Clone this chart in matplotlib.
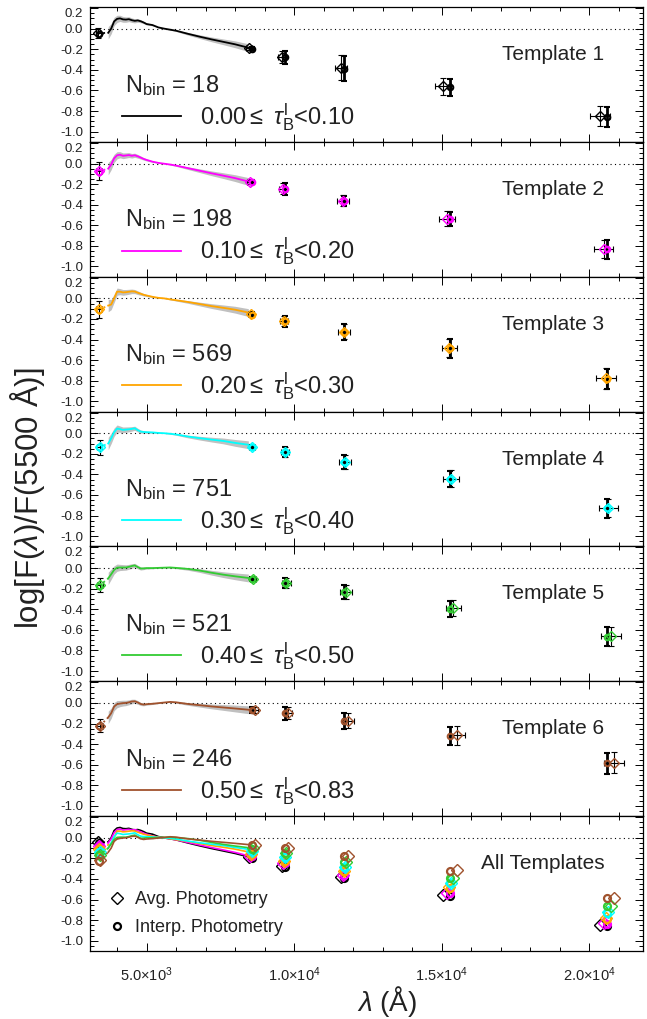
import matplotlib
matplotlib.use('Agg')
import matplotlib.pyplot as plt
from matplotlib.lines import Line2D
from matplotlib.ticker import FixedLocator, MultipleLocator

plt.rcParams['font.family'] = ['Liberation Sans', 'DejaVu Sans']
plt.rcParams['mathtext.fontset'] = 'custom'
plt.rcParams['mathtext.rm'] = 'Liberation Sans'
plt.rcParams['mathtext.it'] = 'Liberation Sans:italic'
plt.rcParams['axes.unicode_minus'] = False

# composite spectra (log flux relative to 5500 A)
spec_wave = [3700, 3800, 3900, 4000, 4100, 4200, 4300, 4400, 4500, 4600, 4700, 4800, 4900,
             5000, 5200, 5400, 5600, 5800, 6000, 6400, 6800, 7200, 7600, 8000, 8450]
flux_t1 = [-0.04, 0.0, 0.07, 0.095, 0.10, 0.09, 0.088, 0.092, 0.082, 0.076, 0.08, 0.072, 0.06,
           0.045, 0.035, 0.012, 0.0, -0.01, -0.02, -0.05, -0.078, -0.104, -0.128, -0.152, -0.185]
flux_t2 = [-0.05, -0.01, 0.05, 0.08, 0.085, 0.075, 0.078, 0.082, 0.075, 0.08, 0.07, 0.058, 0.045,
           0.035, 0.018, 0.006, -0.002, -0.01, -0.02, -0.045, -0.07, -0.095, -0.118, -0.142, -0.175]
flux_t3 = [-0.07, -0.06, 0.0, 0.065, 0.065, 0.058, 0.06, 0.064, 0.068, 0.066, 0.055, 0.045, 0.035,
           0.028, 0.015, 0.005, 0.0, -0.01, -0.018, -0.035, -0.055, -0.075, -0.092, -0.11, -0.138]
flux_t4 = [-0.1, -0.05, 0.01, 0.045, 0.04, 0.032, 0.035, 0.038, 0.042, 0.048, 0.03, 0.016, 0.012,
           0.01, 0.008, 0.003, 0.0, -0.005, -0.012, -0.032, -0.048, -0.062, -0.075, -0.094, -0.112]
flux_t5 = [-0.1, -0.06, -0.018, 0.004, 0.006, 0.006, 0.006, 0.012, 0.02, 0.026, 0.01, -0.004, -0.003,
           0.0, 0.0, 0.002, 0.004, 0.006, 0.002, -0.008, -0.024, -0.045, -0.064, -0.08, -0.096]
flux_t6 = [-0.14, -0.1, -0.035, -0.012, -0.006, -0.002, 0.0, 0.006, 0.014, 0.016, 0.005, -0.01, -0.016,
           -0.012, -0.008, -0.002, 0.004, 0.01, 0.006, -0.01, -0.022, -0.034, -0.044, -0.054, -0.066]
band_half = [0.06, 0.05, 0.04, 0.035, 0.03, 0.028, 0.026, 0.024, 0.022, 0.02, 0.018, 0.015, 0.012,
             0.01, 0.007, 0.004, 0.003, 0.005, 0.008, 0.013, 0.018, 0.023, 0.028, 0.033, 0.038]

# photometry: interpolated (circles) and averaged (diamonds)
circ_wave = [3400, 8560, 9680, 11700, 15280, 20620]
band_xerr = [100, 100, 140, 210, 260, 330]
diam_wave_t1 = [3370, 8460, 9590, 11600, 15050, 20380]
diam_wave_t2 = [3385, 8500, 9630, 11650, 15180, 20500]
diam_wave_t3 = [3395, 8540, 9670, 11690, 15260, 20580]
diam_wave_t4 = [3405, 8580, 9700, 11720, 15320, 20660]
diam_wave_t5 = [3415, 8620, 9740, 11770, 15400, 20740]
diam_wave_t6 = [3430, 8680, 9790, 11830, 15520, 20840]

circ_y_t1 = [-0.05, -0.195, -0.28, -0.39, -0.57, -0.86]
circ_y_t2 = [-0.08, -0.18, -0.248, -0.365, -0.54, -0.835]
circ_y_t3 = [-0.112, -0.157, -0.224, -0.326, -0.486, -0.784]
circ_y_t4 = [-0.138, -0.131, -0.186, -0.282, -0.442, -0.73]
circ_y_t5 = [-0.17, -0.106, -0.147, -0.234, -0.394, -0.666]
circ_y_t6 = [-0.224, -0.07, -0.102, -0.176, -0.32, -0.586]
diam_y_t1 = [-0.045, -0.19, -0.275, -0.38, -0.56, -0.85]
diam_y_t2 = [-0.075, -0.178, -0.245, -0.36, -0.535, -0.83]
diam_y_t3 = [-0.108, -0.155, -0.222, -0.322, -0.482, -0.778]
diam_y_t4 = [-0.135, -0.13, -0.185, -0.28, -0.44, -0.725]
diam_y_t5 = [-0.168, -0.104, -0.145, -0.232, -0.39, -0.662]
diam_y_t6 = [-0.22, -0.072, -0.1, -0.172, -0.315, -0.58]

err_t1 = [0.05, 0.015, 0.06, 0.12, 0.08, 0.1]
err_t2 = [0.09, 0.02, 0.055, 0.05, 0.07, 0.09]
err_t3 = [0.08, 0.02, 0.05, 0.075, 0.09, 0.1]
err_t4 = [0.072, 0.02, 0.048, 0.067, 0.078, 0.09]
err_t5 = [0.067, 0.02, 0.05, 0.07, 0.077, 0.093]
err_t6 = [0.064, 0.03, 0.06, 0.074, 0.09, 0.1]

n_bin = [18, 198, 569, 751, 521, 246]
tau_lo = ['0.00', '0.10', '0.20', '0.30', '0.40', '0.50']
tau_hi = ['0.10', '0.20', '0.30', '0.40', '0.50', '0.83']
colors = ['black', '#ff00ff', '#ffa500', '#00ffff', '#33cc33', '#a0522d']

fluxes = [flux_t1, flux_t2, flux_t3, flux_t4, flux_t5, flux_t6]
diam_waves = [diam_wave_t1, diam_wave_t2, diam_wave_t3, diam_wave_t4, diam_wave_t5, diam_wave_t6]
circ_ys = [circ_y_t1, circ_y_t2, circ_y_t3, circ_y_t4, circ_y_t5, circ_y_t6]
diam_ys = [diam_y_t1, diam_y_t2, diam_y_t3, diam_y_t4, diam_y_t5, diam_y_t6]
errs = [err_t1, err_t2, err_t3, err_t4, err_t5, err_t6]

ytick_vals = [-1.0, -0.8, -0.6, -0.4, -0.2, 0.0, 0.2]
ytick_labels = ['-1.0', '-0.8', '-0.6', '-0.4', '-0.2', '0.0', '0.2']
xtick_vals = [5000, 10000, 15000, 20000]
xtick_labels = [r'5.0$\times$10$^{3}$', r'1.0$\times$10$^{4}$',
                r'1.5$\times$10$^{4}$', r'2.0$\times$10$^{4}$']

txt = '#222222'

fig, axes = plt.subplots(7, 1, sharex=True, figsize=(6.47, 10.19), dpi=100)
fig.subplots_adjust(left=0.139, right=0.9938, top=0.9931, bottom=0.0667, hspace=0)

for ax in axes:
    ax.axhline(0, color='k', ls=(0, (1, 3)), lw=0.8)
    ax.set_ylim(-1.1, 0.21)
    ax.set_xlim(3080, 21830)
    ax.yaxis.set_major_locator(FixedLocator(ytick_vals))
    ax.set_yticklabels(ytick_labels)
    ax.yaxis.set_minor_locator(MultipleLocator(0.05))
    ax.xaxis.set_major_locator(FixedLocator(xtick_vals))
    ax.xaxis.set_minor_locator(MultipleLocator(1000))
    ax.tick_params(which='both', direction='in', top=True, right=True,
                   labelcolor=txt, width=0.7)
    ax.tick_params(axis='y', labelsize=9.5, pad=5)
    ax.tick_params(axis='x', labelsize=10.5, pad=10)
    ax.tick_params(which='major', length=6)
    ax.tick_params(which='minor', length=3)
    for s in ax.spines.values():
        s.set_linewidth(0.9)
    # top label sits below the panel edge
    ax.yaxis.get_major_ticks()[-1].label1.set_va('top')

for i in range(6):
    ax = axes[i]
    c = colors[i]
    flux = fluxes[i]
    lo = [f - b for f, b in zip(flux, band_half)]
    hi = [f + b for f, b in zip(flux, band_half)]
    ax.fill_between(spec_wave, lo, hi, color='#c0c0c0', lw=0)
    line, = ax.plot(spec_wave, flux, color=c, lw=1.3)
    ax.plot([diam_waves[i][0], spec_wave[0]], [diam_ys[i][0], flux[0]], color=c, ls=':', lw=1.3)

    ax.errorbar(diam_waves[i], diam_ys[i], yerr=errs[i], xerr=band_xerr, fmt='none',
                ecolor='k', elinewidth=0.8, capsize=2.5, capthick=0.8)
    ax.errorbar(circ_wave[1:], circ_ys[i][1:], yerr=errs[i][1:], fmt='none',
                ecolor='k', elinewidth=2, capsize=2.5, capthick=1.5)
    ax.plot(diam_waves[i], diam_ys[i], 'D', ms=5, mfc='none', mec=c, mew=1)
    ax.plot(circ_wave, circ_ys[i], 'o', ms=4, mfc='none', mec=c, mew=1.5)

    ax.text(0.93, 0.607, 'Template %d' % (i + 1), transform=ax.transAxes,
            ha='right', va='baseline', fontsize=15, color=txt)
    ax.text(0.063, 0.372, r'N$_{\rm bin}$ = %d' % n_bin[i], transform=ax.transAxes,
            ha='left', va='baseline', fontsize=17, color=txt)
    lab = tau_lo[i] + r'$\leq$ $\tau^{\rm l}_{\rm B}$<' + tau_hi[i]
    ax.legend([line], [lab], loc='center left', bbox_to_anchor=(0.058, 0.187),
              frameon=False, fontsize=17, handlelength=2.5, handletextpad=0.8,
              borderpad=0, borderaxespad=0, labelcolor=txt)

# all templates together
ax7 = axes[6]
for i in range(6):
    c = colors[i]
    ax7.plot(spec_wave, fluxes[i], color=c, lw=1.2)
    ax7.plot([diam_waves[i][0], spec_wave[0]], [diam_ys[i][0], fluxes[i][0]], color=c, ls=':', lw=1.2)
    ax7.plot(diam_waves[i], diam_ys[i], 'D', ms=6.5, mfc='none', mec=c, mew=1)
    ax7.plot(circ_wave, circ_ys[i], 'o', ms=5, mfc='none', mec=c, mew=1.6)
ax7.text(0.93, 0.607, 'All Templates', transform=ax7.transAxes,
         ha='right', va='baseline', fontsize=15, color=txt)
h_avg = Line2D([], [], ls='none', marker='D', ms=6.5, mfc='none', mec='k', mew=1)
h_int = Line2D([], [], ls='none', marker='o', ms=5, mfc='none', mec='k', mew=1.6)
ax7.legend([h_avg, h_int], ['Avg. Photometry', 'Interp. Photometry'], loc='lower left',
           bbox_to_anchor=(0.035, 0.11), frameon=False, fontsize=13, handlelength=0.8,
           handletextpad=0.6, labelspacing=0.6, borderpad=0, borderaxespad=0, labelcolor=txt)
ax7.set_xticklabels(xtick_labels)

fig.text(0.043, 0.511, r'log[F($\lambda$)/F(5500 Å)]', rotation=90, ha='center', va='center',
         fontsize=22.5, color=txt)
fig.text(0.598, 0.017, r'$\lambda$ (Å)', ha='center', va='center', fontsize=20, color=txt)

fig.savefig('out.png', dpi=100)
